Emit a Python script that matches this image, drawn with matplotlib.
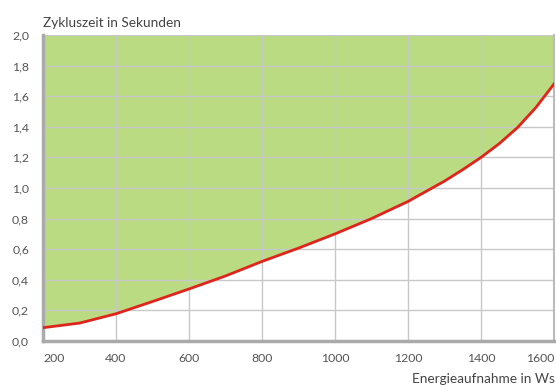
import matplotlib
matplotlib.use("Agg")
import matplotlib.pyplot as plt

energy = [200, 300, 400, 500, 600, 700, 800, 900, 1000, 1100, 1200, 1300, 1350, 1400, 1450, 1500, 1550, 1600]
cycle_time = [0.087, 0.117, 0.178, 0.258, 0.34, 0.425, 0.52, 0.607, 0.70, 0.80, 0.912, 1.045, 1.12, 1.20, 1.29, 1.395, 1.525, 1.68]
xticks = [200, 400, 600, 800, 1000, 1200, 1400, 1600]
yticks = [0.0, 0.2, 0.4, 0.6, 0.8, 1.0, 1.2, 1.4, 1.6, 1.8, 2.0]
ylabels = ["0,0", "0,2", "0,4", "0,6", "0,8", "1,0", "1,2", "1,4", "1,6", "1,8", "2,0"]

plt.rcParams['font.family'] = ['Lato', 'DejaVu Sans']
fig = plt.figure(figsize=(5.56, 3.87), dpi=100)
ax = fig.add_axes([43/556, 46/387, 511/556, 306/387])

ax.fill_between(energy, cycle_time, 2.0, color='#badb81', linewidth=0, zorder=1)
ax.plot(energy, cycle_time, color='#e0241b', lw=2, zorder=3, solid_joinstyle='round')

ax.set_xlim(200, 1600)
ax.set_ylim(0, 2.0)
ax.set_xticks(xticks)
ax.set_yticks(yticks)
ax.set_yticklabels(ylabels)
ax.set_xticklabels([str(v) for v in xticks])
ax.get_xticklabels()[0].set_horizontalalignment('left')
ax.get_xticklabels()[-1].set_horizontalalignment('right')

ax.grid(True, color='#c8c8c8', lw=1, zorder=2)
for line in ax.get_xgridlines() + ax.get_ygridlines():
    line.set_zorder(2)
ax.tick_params(length=0, labelsize=8.8, labelcolor='#555555', pad=9)
ax.tick_params(axis='y', pad=10)

ax.spines['top'].set_visible(False)
ax.spines['left'].set_color('#aaaaaa')
ax.spines['left'].set_linewidth(2.5)
ax.spines['bottom'].set_color('#aaaaaa')
ax.spines['bottom'].set_linewidth(2.5)
ax.spines['right'].set_color('#bbbbbb')
ax.spines['right'].set_linewidth(1.5)

fig.text(43/556, 1 - 23/387, "Zykluszeit in Sekunden", fontsize=9.8, color='#444444', va='center', ha='left')
fig.text(555/556, 1 - 379/387, "Energieaufnahme in Ws", fontsize=9.8, color='#444444', va='center', ha='right')

fig.savefig("out.png", dpi=100)
